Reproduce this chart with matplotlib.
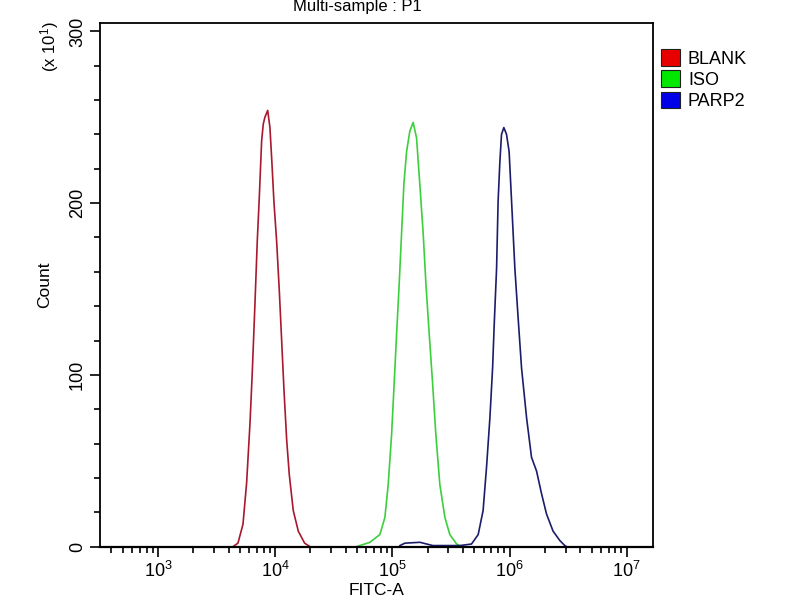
import matplotlib
matplotlib.use("Agg")
import matplotlib.pyplot as plt
import numpy as np
from matplotlib.patches import Patch
from matplotlib.ticker import FixedLocator, LogLocator, NullFormatter

plt.rcParams['font.family'] = ['Liberation Sans', 'DejaVu Sans']
plt.rcParams['mathtext.fontset'] = 'custom'
plt.rcParams['mathtext.rm'] = 'Liberation Sans'
plt.rcParams['mathtext.it'] = 'Liberation Sans'

# histogram outlines, x as log10(FITC-A), y as count / 10
blank_log = [3.640, 3.682, 3.725, 3.756, 3.785, 3.804, 3.827, 3.847, 3.864, 3.884, 3.898,
             3.912, 3.936, 3.955, 3.970, 3.989, 4.012, 4.035, 4.055, 4.075, 4.098, 4.120,
             4.154, 4.197, 4.251, 4.296]
blank_cnt = [0, 2, 13, 37, 72, 101, 141, 178, 203, 236, 246,
             250, 254, 244, 226, 201, 178, 149, 120, 91, 62, 42,
             21, 9, 2, 0]

iso_log = [4.695, 4.808, 4.893, 4.936, 4.964, 4.993, 5.015, 5.036, 5.058, 5.078, 5.098,
           5.121, 5.149, 5.177, 5.206, 5.234, 5.263, 5.286, 5.314, 5.343, 5.371, 5.405,
           5.448, 5.490, 5.548, 5.590]
iso_cnt = [0, 2.5, 7, 17, 36, 65, 95, 124, 153, 182, 211,
           230, 242, 247, 238, 211, 182, 153, 124, 95, 65, 36,
           17, 7, 1.5, 0]

parp2_log = [5.064, 5.107, 5.235, 5.345, 5.576, 5.675, 5.732, 5.774, 5.803, 5.832, 5.855,
             5.868, 5.889, 5.902, 5.917, 5.931, 5.951, 5.974, 5.996, 6.017, 6.045, 6.073,
             6.102, 6.145, 6.187, 6.230, 6.272, 6.315, 6.371, 6.429, 6.471, 6.486]
parp2_cnt = [0.6, 2, 2.5, 0.6, 0.6, 1.5, 7, 21, 46, 75, 104,
             128, 162, 201, 224, 240, 244, 240, 230, 201, 162, 133,
             104, 75, 52, 44, 31, 19, 9, 3.5, 0.6, 0]

labels = ["BLANK", "ISO", "PARP2"]
legend_colors = ["#e80000", "#00e800", "#0000e8"]
line_colors = ["#a8182e", "#3ccf3c", "#1c1c6a"]

fig = plt.figure(figsize=(8, 6), dpi=100)
ax = fig.add_axes([0.125, 0.089, 0.691, 0.873])

series = [(blank_log, blank_cnt), (iso_log, iso_cnt), (parp2_log, parp2_cnt)]
for (lx, cnt), col in zip(series, line_colors):
    ax.plot(10 ** np.array(lx), cnt, color=col, linewidth=1.2)

ax.set_xscale('log')
ax.set_xlim(10 ** 2.505, 10 ** 7.222)
ax.set_ylim(0, 305)

ax.xaxis.set_major_locator(LogLocator(base=10, numticks=10))
ax.xaxis.set_minor_locator(LogLocator(base=10, subs=np.arange(2, 10), numticks=20))
ax.xaxis.set_minor_formatter(NullFormatter())

ax.yaxis.set_major_locator(FixedLocator([0, 100, 200, 300]))
ax.yaxis.set_minor_locator(FixedLocator(list(range(0, 301, 20))))
ax.set_yticklabels(["0", "100", "200", "300"], rotation=90, va='center')

ax.tick_params(axis='both', which='major', direction='out', length=7, width=1.2,
               labelsize=13, pad=3)
ax.tick_params(axis='both', which='minor', direction='out', length=4.5, width=1.2)

for sp in ax.spines.values():
    sp.set_linewidth(1.3)
ax.spines['bottom'].set_linewidth(1.6)

ax.set_xlabel("FITC-A", fontsize=12.5)
ax.set_ylabel("Count", fontsize=12.5)
ax.xaxis.set_label_coords(0.5, -0.07)
ax.yaxis.set_label_coords(-0.087, 0.5)

fig.text(0.0625, 0.922, r"(x 10$^{1}$)", rotation=90, ha='center', va='center', fontsize=12)
fig.text(0.447, 0.99, "Multi-sample : P1", ha='center', va='center', fontsize=12)

handles = [Patch(facecolor=c, edgecolor='#202020', linewidth=0.8) for c in legend_colors]
fig.legend(handles, labels, loc='upper left', bbox_to_anchor=(0.826, 0.918),
           frameon=False, fontsize=13, handlelength=1.05, handleheight=1.05,
           handletextpad=0.45, labelspacing=0.15, borderpad=0, borderaxespad=0)

fig.savefig("out.png", dpi=100)
plt.close(fig)
